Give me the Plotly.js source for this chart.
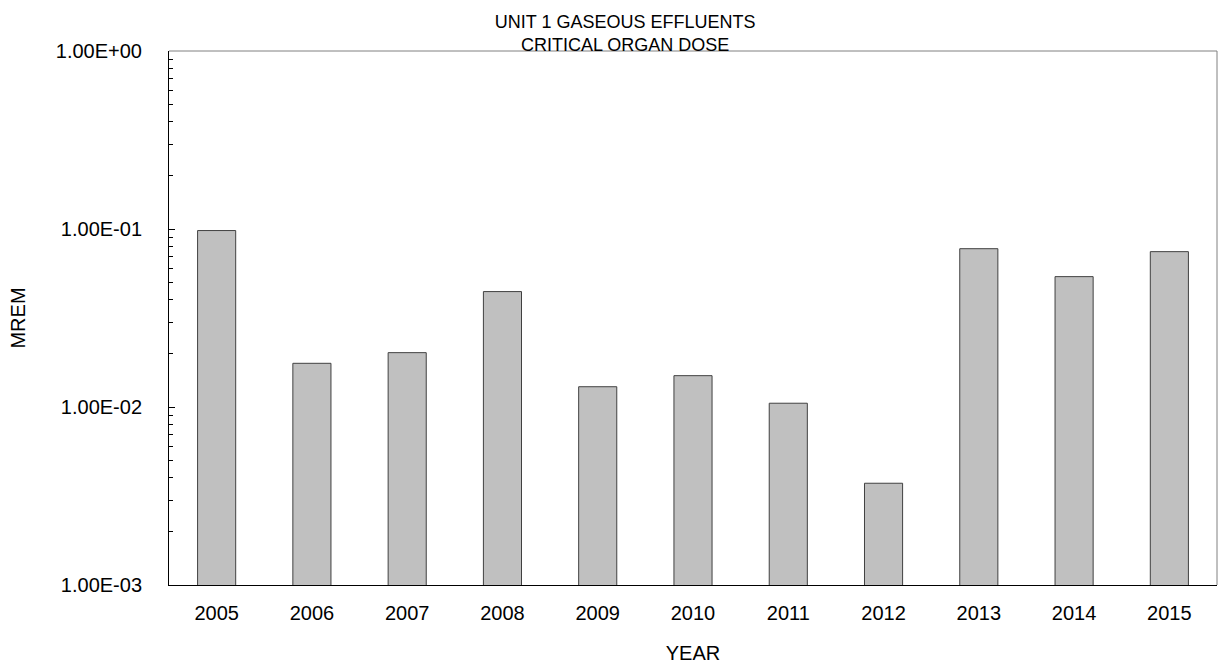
<!DOCTYPE html>
<html>
<head>
<meta charset="utf-8">
<script src="https://cdn.plot.ly/plotly-3.0.1.min.js"></script>
<style>
  html, body { margin: 0; padding: 0; background: #fff; }
  #plot { width: 1221px; height: 666px; }
</style>
</head>
<body>
<div id="plot"></div>
<script>
// Unit 1 gaseous effluents, critical organ dose (mrem)
var years = ["2005", "2006", "2007", "2008", "2009", "2010",
  "2011", "2012", "2013", "2014", "2015"];
var dose = [0.098, 0.0176, 0.0202, 0.0445, 0.0130, 0.0150,
  0.0105, 0.00373, 0.0775, 0.054, 0.0746];

var yTickVals = [0.001, 0.01, 0.1, 1];
var yTickText = ["1.00E-03", "1.00E-02", "1.00E-01", "1.00E+00"];

var font = "Arial, 'Liberation Sans', sans-serif";

var trace1 = {
  x: years,
  y: dose,
  type: "bar",
  width: 0.4,
  marker: {
    color: "#c0c0c0",
    line: { color: "#404040", width: 1 }
  },
  hoverinfo: "x+y"
};

var data = [trace1];

var layout = {
  width: 1221,
  height: 666,
  margin: { l: 168.5, r: 3.5, t: 51, b: 81, pad: 0 },
  paper_bgcolor: "#fff",
  plot_bgcolor: "#fff",
  font: { family: font, size: 20, color: "#000" },
  showlegend: false,
  title: {
    text: "UNIT 1 GASEOUS EFFLUENTS<br>CRITICAL ORGAN DOSE",
    font: { family: font, size: 18 },
    xref: "container", yref: "container",
    x: 0.512, y: 0.958,
    xanchor: "center", yanchor: "middle"
  },
  xaxis: {
    type: "category",
    showgrid: false,
    zeroline: false,
    showline: true,
    linecolor: "#000",
    linewidth: 1,
    ticks: "",
    ticklabelstandoff: 10,
    tickfont: { family: font, size: 20 },
    title: { text: "YEAR", font: { family: font, size: 20 }, standoff: 22 }
  },
  yaxis: {
    type: "log",
    range: [-3, 0],
    showgrid: false,
    zeroline: false,
    showline: true,
    linecolor: "#000",
    linewidth: 1,
    tickmode: "array",
    tickvals: yTickVals,
    ticktext: yTickText,
    ticks: "inside",
    ticklen: 6,
    tickcolor: "#000",
    ticklabelstandoff: 22,
    minor: { ticks: "inside", ticklen: 4, tickcolor: "#000", dtick: "D1" },
    tickfont: { family: font, size: 20 },
    title: { text: "MREM", font: { family: font, size: 20 }, standoff: 24 }
  },
  shapes: [
    { type: "line", xref: "paper", yref: "paper", x0: 0, x1: 1, y0: 1, y1: 1,
      line: { color: "#808080", width: 1 } },
    { type: "line", xref: "paper", yref: "paper", x0: 1, x1: 1, y0: 0, y1: 1,
      line: { color: "#808080", width: 1 } }
  ]
};

Plotly.newPlot("plot", data, layout, { displayModeBar: false, staticPlot: true });
</script>
</body>
</html>
